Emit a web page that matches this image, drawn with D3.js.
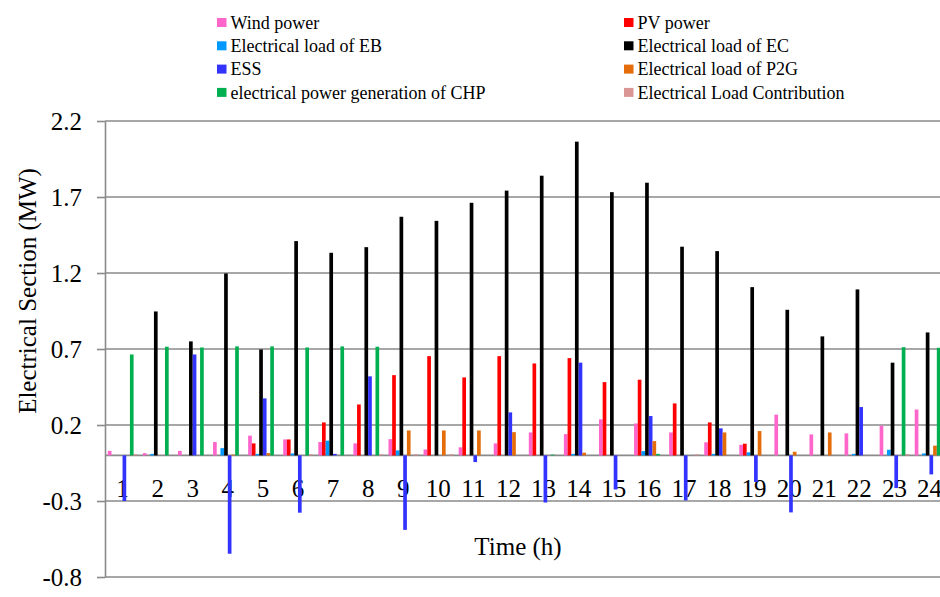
<!DOCTYPE html>
<html>
<head>
<meta charset="utf-8">
<script src="https://cdn.jsdelivr.net/npm/d3@7"></script>
<style>
body {
    margin: 0;
    background: #fff;
}
svg {
    display: block;
    font-family: "Liberation Serif", "Times New Roman", serif;
}
.grid line {
    stroke: #8a8a8a;
    stroke-width: 1.6;
}
.axis path, .axis line {
    stroke: #8a8a8a;
    stroke-width: 1.6;
}
.axis text {
    font-family: "Liberation Serif", "Times New Roman", serif;
    font-size: 25px;
    fill: #000;
}
.legend text {
    font-size: 18px;
    fill: #000;
}
</style>
</head>
<body>
<svg></svg>
<script>

var hours = ["1","2","3","4","5","6","7","8","9","10","11","12",
             "13","14","15","16","17","18","19","20","21","22","23","24"];

var seriesNames = ["Wind power", "PV power",
                   "Electrical load of EB", "Electrical load of EC",
                   "ESS", "Electrical load of P2G",
                   "electrical power generation of CHP", "Electrical Load Contribution"];

var seriesColors = ["#ff66cc", "#ff0000", "#0099ff", "#000000",
                    "#3333ff", "#e46c0a", "#00b050", "#d99694"];

// values (MW)
var windPower = [0.03, 0.015, 0.03, 0.088, 0.13, 0.105, 0.088, 0.079, 0.107, 0.039, 0.053, 0.079,
                 0.151, 0.14, 0.237, 0.21, 0.151, 0.086, 0.07, 0.268, 0.138, 0.145, 0.195, 0.302];
var pvPower = [0, 0, 0, 0, 0.079, 0.105, 0.217, 0.335, 0.528, 0.653, 0.513, 0.653,
               0.605, 0.64, 0.482, 0.498, 0.342, 0.217, 0.077, 0, 0, 0, 0, 0];
var loadEB = [0, 0.01, 0, 0.048, 0.01, 0.013, 0.097, 0, 0.033, 0, 0, 0,
              0, 0.01, 0, 0.028, 0, 0.01, 0.02, 0, 0, 0.01, 0.037, 0.013];
var loadEC = [0, 0.947, 0.75, 1.197, 0.697, 1.41, 1.333, 1.37, 1.57, 1.543, 1.662, 1.742,
              1.84, 2.064, 1.732, 1.794, 1.373, 1.344, 1.107, 0.958, 0.783, 1.092, 0.61, 0.809];
var ess = [-0.3, 0, 0.664, -0.647, 0.375, -0.377, 0.01, 0.52, -0.49, 0, -0.044, 0.283,
           -0.31, 0.61, -0.224, 0.259, -0.296, 0.178, -0.175, -0.375, 0, 0.318, -0.215, -0.125];
var loadP2G = [0, 0, 0, 0.005, 0.015, 0, 0, 0, 0.164, 0.164, 0.164, 0.153,
               0, 0.018, 0, 0.094, 0, 0.151, 0.16, 0.024, 0.151, 0, 0, 0.064];
var chpPower = [0.664, 0.715, 0.71, 0.717, 0.717, 0.71, 0.717, 0.715, 0, 0, 0, 0,
                0.005, 0, 0, 0.01, 0, 0, 0, 0, 0, 0, 0.712, 0.708];
var loadContribution = [0.008, 0, 0, 0, 0, 0.008, 0, 0.008, 0.008, 0.008, 0, 0,
                        0, 0, 0, 0, 0.008, 0, 0, 0, 0, 0, 0.008, 0];

var yTicks = [-0.8, -0.3, 0.2, 0.7, 1.2, 1.7, 2.2];

var seriesValues = [windPower, pvPower, loadEB, loadEC, ess, loadP2G, chpPower, loadContribution];

var width = 940;
var height = 597;
var plotLeft = 105, plotRight = 947, plotTop = 121, plotBottom = 577;

var svg = d3.select("svg")
            .attr("width", width)
            .attr("height", height);

var x0 = d3.scaleBand()
    .domain(hours)
    .range([plotLeft, plotRight])
    .paddingInner(0.16)
    .paddingOuter(0.08);

var x1 = d3.scaleBand()
    .domain(d3.range(seriesNames.length))
    .range([0, x0.bandwidth()]);

var y = d3.scaleLinear()
    .domain([yTicks[0], yTicks[yTicks.length - 1]])
    .range([plotBottom, plotTop]);

// horizontal gridlines
svg.append("g")
    .attr("class", "grid")
    .selectAll("line")
    .data(yTicks)
    .enter().append("line")
    .attr("x1", plotLeft)
    .attr("x2", plotRight)
    .attr("y1", function(d) { return y(d); })
    .attr("y2", function(d) { return y(d); });

// zero line (category axis)
svg.append("line")
    .attr("x1", plotLeft)
    .attr("x2", plotRight)
    .attr("y1", y(0))
    .attr("y2", y(0))
    .style("stroke", "#8a8a8a")
    .style("stroke-width", 1.6);

// value axis
svg.append("g")
    .attr("class", "axis")
    .attr("transform", "translate(" + plotLeft + ",0)")
    .call(d3.axisLeft(y)
        .tickValues(yTicks)
        .tickSize(8)
        .tickPadding(15)
        .tickSizeOuter(0)
        .tickFormat(function(d) { return d.toFixed(1); }));

// hour labels sit just under the zero line, bars are drawn over them
svg.append("g")
    .attr("class", "axis")
    .selectAll("text")
    .data(hours)
    .enter().append("text")
    .attr("x", function(d) { return x0(d) + x0.bandwidth() / 2; })
    .attr("y", y(0) + 41.5)
    .attr("text-anchor", "middle")
    .text(function(d) { return d; });

// bars
var groups = svg.append("g")
    .selectAll("g")
    .data(hours)
    .enter().append("g")
    .attr("transform", function(d) { return "translate(" + x0(d) + ",0)"; });

groups.selectAll("rect")
    .data(function(h, i) {
        return seriesValues.map(function(vals, s) { return {s: s, v: vals[i]}; });
    })
    .enter().append("rect")
    .attr("x", function(d) { return x1(d.s); })
    .attr("width", x1.bandwidth())
    .attr("y", function(d) { return y(Math.max(0, d.v)); })
    .attr("height", function(d) { return Math.abs(y(d.v) - y(0)); })
    .style("fill", function(d) { return seriesColors[d.s]; });

// axis titles
svg.append("text")
    .attr("x", 518)
    .attr("y", 555)
    .attr("text-anchor", "middle")
    .style("font-size", "25px")
    .text("Time (h)");

svg.append("text")
    .attr("transform", "translate(36,291) rotate(-90)")
    .attr("text-anchor", "middle")
    .style("font-size", "25px")
    .text("Electrical Section (MW)");

// legend, two columns
var legend = svg.append("g")
    .attr("class", "legend")
    .selectAll("g")
    .data(seriesNames)
    .enter().append("g")
    .attr("transform", function(d, i) {
        var col = i % 2, row = Math.floor(i / 2);
        return "translate(" + (col === 0 ? 217 : 624) + "," + (22.5 + row * 23.3) + ")";
    });

legend.append("rect")
    .attr("x", 0)
    .attr("y", -4.5)
    .attr("width", 9.5)
    .attr("height", 9)
    .style("fill", function(d, i) { return seriesColors[i]; });

legend.append("text")
    .attr("x", 13.5)
    .attr("y", 0)
    .attr("dy", "0.35em")
    .text(function(d) { return d; });

</script>
</body>
</html>
